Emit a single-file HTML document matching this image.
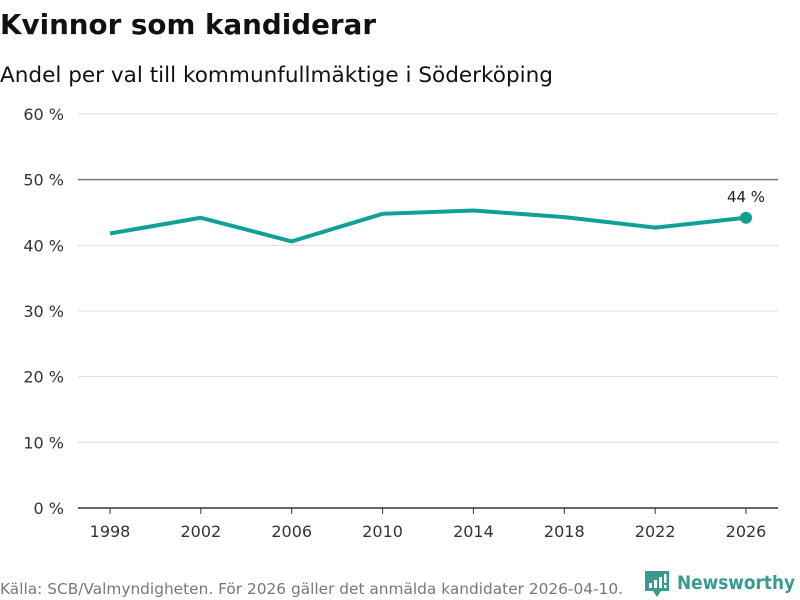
<!DOCTYPE html>
<html><head><meta charset="utf-8"><style>
body{margin:0;background:#fff;font-family:"DejaVu Sans","Liberation Sans",sans-serif;}
svg{display:block}
</style></head><body>
<svg id="chart" width="800" height="600">
<text x="0" y="34" font-size="28" font-weight="bold" fill="#111" textLength="376" lengthAdjust="spacingAndGlyphs">Kvinnor som kandiderar</text>
<text x="0" y="82" font-size="21" fill="#111" textLength="553" lengthAdjust="spacingAndGlyphs">Andel per val till kommunfullmäktige i Söderköping</text>
<g id="grid"></g>
<g id="xaxis"></g>
<g id="series"></g>
<text x="0" y="594" font-size="15" fill="#777" textLength="623" lengthAdjust="spacingAndGlyphs">Källa: SCB/Valmyndigheten. För 2026 gäller det anmälda kandidater 2026-04-10.</text>
<g>
<path d="M645 571 h24 v20 h-8 l-4 6 l-4 -6 h-8 z" fill="#3a9a90"/>
<rect x="649" y="583" width="3" height="5" fill="#fff"/><rect x="654" y="580" width="3" height="8" fill="#fff"/><rect x="659" y="577" width="3" height="11" fill="#fff"/><rect x="664" y="574" width="2.5" height="9" fill="#fff"/><rect x="664" y="585" width="2.5" height="3" fill="#fff"/>
<text x="677" y="589" font-size="19" font-weight="bold" fill="#3a9a90" textLength="118" lengthAdjust="spacingAndGlyphs">Newsworthy</text>
</g>
</svg>
<script>
const years=[1998,2002,2006,2010,2014,2018,2022,2026];
const values=[41.8,44.2,40.6,44.8,45.3,44.3,42.7,44.2];
const yTicks=[0,10,20,30,40,50,60];
const yTickLabels=["0 %","10 %","20 %","30 %","40 %","50 %","60 %"];
const lastLabel="44 %";
const NS="http://www.w3.org/2000/svg";
const x=v=>110+(v-1998)*(636/28);
const y=v=>508-v*(394/60);
function mk(t,a,p){const e=document.createElementNS(NS,t);for(const k in a)e.setAttribute(k,a[k]);p.appendChild(e);return e;}
const grid=document.getElementById('grid');
yTicks.forEach((t,i)=>{
  const l=mk('line',{x1:78,x2:778,y1:y(t),y2:y(t),stroke:t===50?'#777':(t===0?'#333':'#ddd'),'stroke-width':t===0?1.5:(t===50?1.5:1)},grid);
  
  
  const tx=mk('text',{x:64,y:y(t)+6,'font-size':16,fill:'#333','text-anchor':'end'},grid);
  tx.textContent=yTickLabels[i];
  
  
});
const xa=document.getElementById('xaxis');
years.forEach(yr=>{
  const tk=mk('line',{x1:x(yr),x2:x(yr),y1:508,y2:514,stroke:'#333'},xa);
  
  
  const tx=mk('text',{x:x(yr),y:537,'font-size':16,fill:'#333','text-anchor':'middle'},xa);
  tx.textContent=yr;
  
  
});
const s=document.getElementById('series');
const ln=mk('polyline',{points:years.map((yr,i)=>x(yr)+','+y(values[i])).join(' '),fill:'none',stroke:'#0fa195','stroke-width':4,'stroke-linejoin':'round'},s);


const n=years.length-1;
const dot=mk('circle',{cx:x(years[n]),cy:y(values[n]),r:6,fill:'#0fa195'},s);


const lb=mk('text',{x:x(years[n]),y:y(values[n])-16,'font-size':15,fill:'#222','text-anchor':'middle'},s);
lb.textContent=lastLabel;


</script>
</body></html>
